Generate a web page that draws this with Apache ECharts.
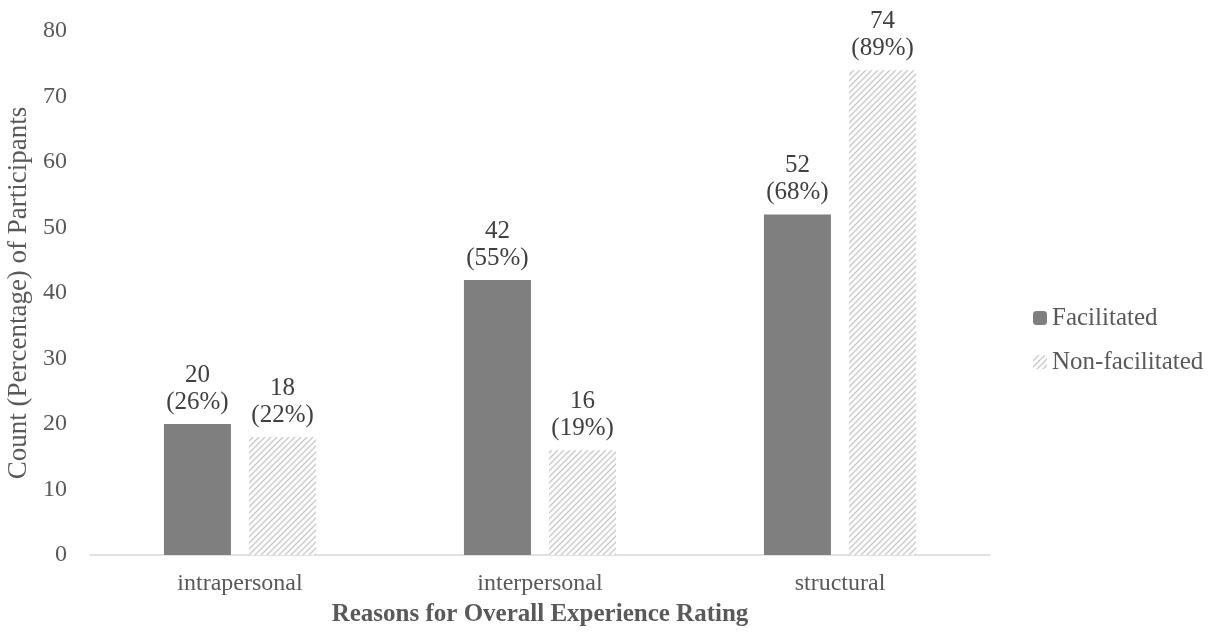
<!DOCTYPE html>
<html>
<head>
<meta charset="utf-8">
<script src="https://cdn.jsdelivr.net/npm/echarts@6/dist/echarts.min.js"></script>
<style>
  html, body { margin: 0; padding: 0; background: #fff; }
  #chart { width: 1216px; height: 639px; }
</style>
</head>
<body>
<div id="chart"></div>
<script>
const categories = ['intrapersonal', 'interpersonal', 'structural'];
const facilitatedCounts = [20, 42, 52];
const facilitatedPct = [26, 55, 68];
const nonFacilitatedCounts = [18, 16, 74];
const nonFacilitatedPct = [22, 19, 89];

// Diagonal hatch used for the non-facilitated bars
function makeHatch() {
  const c = document.createElement('canvas');
  c.width = 6; c.height = 6;
  const g = c.getContext('2d');
  g.fillStyle = '#ffffff';
  g.fillRect(0, 0, 6, 6);
  g.strokeStyle = '#c8c8c8';
  g.lineWidth = 1.3;
  g.beginPath();
  g.moveTo(-1, 7); g.lineTo(7, -1);
  g.moveTo(-4, 4); g.lineTo(4, -4);
  g.moveTo(2, 10); g.lineTo(10, 2);
  g.stroke();
  return c;
}
const hatch = { image: makeHatch(), repeat: 'repeat' };

const font = 'Liberation Serif, Times New Roman, serif';
const textColor = '#595959';

function labelFor(pcts) {
  return {
    show: true,
    position: 'top',
    distance: 8,
    color: '#404040',
    fontFamily: font,
    fontSize: 25,
    lineHeight: 27,
    formatter: p => p.value + '\n(' + pcts[p.dataIndex] + '%)'
  };
}

const chart = echarts.init(document.getElementById('chart'));
chart.setOption({
  animation: false,
  backgroundColor: '#ffffff',
  textStyle: { fontFamily: font },
  grid: { left: 90, right: 226, top: 31, bottom: 84, outerBoundsMode: 'none', containLabel: false },
  legend: {
    orient: 'vertical',
    left: 1028,
    top: 299,
    itemWidth: 14,
    itemHeight: 14,
    itemGap: 16,
    itemStyle: { borderWidth: 0 },
    textStyle: { fontFamily: font, fontSize: 25, color: textColor, lineHeight: 28 },
    data: ['Facilitated', 'Non-facilitated']
  },
  xAxis: {
    type: 'category',
    data: categories,
    axisLine: { lineStyle: { color: '#d9d9d9', width: 1.5 } },
    axisTick: { show: false },
    axisLabel: { fontFamily: font, fontSize: 24, color: textColor, margin: 17 },
    name: 'Reasons for Overall Experience Rating',
    nameLocation: 'middle',
    nameGap: 47,
    nameTextStyle: { fontFamily: font, fontSize: 25, fontWeight: 'bold', color: textColor }
  },
  yAxis: {
    type: 'value',
    min: 0,
    max: 80,
    interval: 10,
    axisLine: { show: false },
    axisTick: { show: false },
    splitLine: { show: false },
    axisLabel: { fontFamily: font, fontSize: 24, color: textColor, margin: 23 },
    name: 'Count (Percentage) of Participants',
    nameLocation: 'middle',
    nameGap: 56,
    nameTextStyle: { fontFamily: font, fontSize: 27, color: textColor }
  },
  series: [
    {
      name: 'Facilitated',
      type: 'bar',
      data: facilitatedCounts,
      barWidth: 67,
      barGap: '27%',
      itemStyle: { color: '#7f7f7f' },
      label: labelFor(facilitatedPct)
    },
    {
      name: 'Non-facilitated',
      type: 'bar',
      data: nonFacilitatedCounts,
      barWidth: 67,
      barGap: '27%',
      itemStyle: { color: hatch },
      label: labelFor(nonFacilitatedPct)
    }
  ]
});
</script>
</body>
</html>
